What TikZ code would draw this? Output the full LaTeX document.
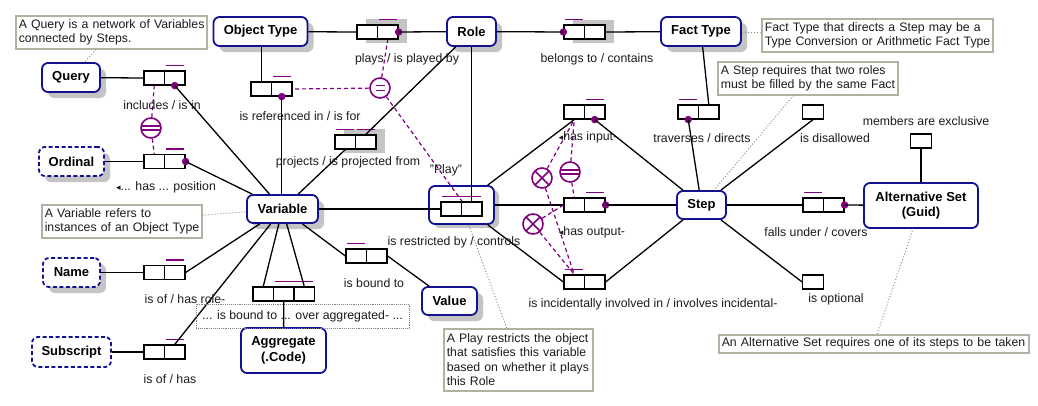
\documentclass[tikz,border=0pt]{standalone}
\usepackage{fontspec}
\setmainfont{Liberation Sans}
\newfontfamily\symfont{DejaVu Sans}
\usetikzlibrary{calc,shadows}

\definecolor{entblue}{RGB}{18,18,145}
\definecolor{cpurple}{RGB}{128,0,128}
\definecolor{shadowgray}{RGB}{196,196,196}
\definecolor{noteborder}{RGB}{180,176,162}
\definecolor{notelinkc}{RGB}{150,146,132}
\definecolor{txt}{RGB}{28,28,28}

% uniqueness bar over one role or spanning several roles
\newcommand\ORMuniq[2]{\draw[ubar] ([xshift=2pt,yshift=5pt]#1.north west) -- ([xshift=-2pt,yshift=5pt]#2.north east);}

\begin{document}
\begin{tikzpicture}[x=1pt,y=-1pt,
  ent/.style={draw=entblue, line width=1.8pt, rounded corners=6pt, fill=white,
    font=\fontsize{13}{15.5}\selectfont\bfseries, align=center, inner sep=0pt, text=black},
  entdash/.style={ent, dash pattern=on 4pt off 2.5pt},
  shadowed/.style={drop shadow={shadow xshift=6pt, shadow yshift=-6pt, fill=shadowgray, opacity=1}},
  rolebox/.style={draw=black, line width=1.2pt, fill=white, minimum width=20.5pt,
    minimum height=14pt, inner sep=0pt},
  ubar/.style={draw=cpurple, line width=1.5pt},
  mdot/.style={circle, fill=cpurple, inner sep=0pt, minimum size=7.5pt},
  conn/.style={draw=black, line width=1.3pt},
  cons/.style={draw=cpurple, line width=1.2pt, dash pattern=on 4pt off 3pt},
  ccircle/.style={circle, draw=cpurple, line width=1.6pt, minimum size=20pt, inner sep=0pt, fill=white},
  csym/.style={draw=cpurple, line width=1.5pt},
  lbl/.style={font=\fontsize{12.3}{14}\selectfont, text=txt, inner sep=0pt},
  note/.style={draw=noteborder, line width=1.5pt, fill=white, anchor=north west, align=left,
    font=\fontsize{12.3}{14.5}\selectfont, text=txt, inner xsep=3pt, inner ysep=2pt},
  notelink/.style={draw=notelinkc, line width=1pt, dotted}]

\fill[white] (0,0) rectangle (1038,405);
\useasboundingbox (0,0) rectangle (1038,405);

% shadows behind fact types shown on several diagrams
\fill[shadowgray] (366,19) rectangle (407,43);
\fill[shadowgray] (573,20) rectangle (614,43);
\fill[shadowgray] (344,129) rectangle (385,153);

% ---------- entity types ----------
\node[ent, shadowed, minimum width=94pt, minimum height=29pt] (ot) at (260.5,31.5) {Object Type};
\node[ent, shadowed, minimum width=49pt, minimum height=29pt] (role) at (471.5,31.5) {Role};
\node[ent, shadowed, minimum width=80pt, minimum height=29pt] (ft) at (701,31.5) {Fact Type};
\node[ent, shadowed, minimum width=58pt, minimum height=29pt] (query) at (71,77.5) {Query};
\node[entdash, shadowed, minimum width=65pt, minimum height=29pt] (ordinal) at (71.5,161.5) {Ordinal};
\node[ent, shadowed, minimum width=71pt, minimum height=28pt] (var) at (282.5,209) {Variable};
\node[entdash, shadowed, minimum width=57pt, minimum height=29pt] (name) at (71.5,272.5) {Name};
\node[entdash, minimum width=79pt, minimum height=30pt] (subscript) at (71.5,352) {Subscript};
\node[ent, minimum width=85pt, minimum height=45pt] (agg) at (283.5,350.5) {Aggregate\\(.Code)};
\node[ent, shadowed, minimum width=55pt, minimum height=28pt] (value) at (449.5,301) {Value};
\node[ent, minimum width=49pt, minimum height=28pt] (step) at (701.5,205) {Step};
\node[ent, minimum width=114pt, minimum height=45pt] (alt) at (921,205.5) {Alternative Set\\(Guid)};
% objectified "Play" fact type
\node[ent, drop shadow={shadow xshift=5pt, shadow yshift=-4pt, fill=shadowgray, opacity=1},
  minimum width=65pt, minimum height=38pt] (play) at (461.5,205) {};

% ---------- roles ----------
\node[rolebox] (qi1) at (154.25,78) {};   \node[rolebox] (qi2) at (174.75,78) {};
\node[rolebox] (op1) at (154.25,161.5) {}; \node[rolebox] (op2) at (174.75,161.5) {};
\node[rolebox] (ref1) at (261.25,89) {};  \node[rolebox] (ref2) at (281.75,89) {};
\node[rolebox] (pl1) at (367.25,32) {};   \node[rolebox] (pl2) at (387.75,32) {};
\node[rolebox] (bt1) at (574.25,32) {};   \node[rolebox] (bt2) at (594.75,32) {};
\node[rolebox] (pr1) at (345.25,142) {};  \node[rolebox] (pr2) at (365.75,142) {};
\node[rolebox] (hi1) at (574.25,112) {};  \node[rolebox] (hi2) at (594.75,112) {};
\node[rolebox] (ho1) at (574.25,205) {};  \node[rolebox] (ho2) at (594.75,205) {};
\node[rolebox] (ii1) at (574.25,282) {};  \node[rolebox] (ii2) at (594.75,282) {};
\node[rolebox] (bd1) at (356.25,256) {};  \node[rolebox] (bd2) at (376.75,256) {};
\node[rolebox] (ag1) at (263.25,294) {};  \node[rolebox] (ag2) at (283.75,294) {}; \node[rolebox] (ag3) at (304.25,294) {};
\node[rolebox] (nm1) at (154.25,272.5) {}; \node[rolebox] (nm2) at (174.75,272.5) {};
\node[rolebox] (sb1) at (154.25,352) {};  \node[rolebox] (sb2) at (174.75,352) {};
\node[rolebox] (pf1) at (451.25,209) {};  \node[rolebox] (pf2) at (471.75,209) {};
\node[rolebox] (tr1) at (688.25,112) {};  \node[rolebox] (tr2) at (708.75,112) {};
\node[rolebox] (fu1) at (813.25,205) {};  \node[rolebox] (fu2) at (833.75,205) {};
\node[rolebox] (dis) at (813,112) {};
\node[rolebox] (opt) at (813,282) {};
\node[rolebox] (mex) at (921,141) {};

% uniqueness constraints
\ORMuniq{qi2}{qi2} \ORMuniq{op2}{op2} \ORMuniq{ref2}{ref2} \ORMuniq{pl2}{pl2}
\ORMuniq{bt1}{bt1} \ORMuniq{pr1}{pr1} \ORMuniq{pr2}{pr2} \ORMuniq{hi2}{hi2}
\ORMuniq{ho2}{ho2} \ORMuniq{ii1}{ii1} \ORMuniq{bd1}{bd1} \ORMuniq{ag2}{ag3}
\ORMuniq{nm2}{nm2} \ORMuniq{sb2}{sb2} \ORMuniq{pf1}{pf2} \ORMuniq{tr1}{tr1}
\ORMuniq{fu1}{fu1}

% mandatory role dots
\node[mdot] (qid) at (qi2.south) {};
\node[mdot] (opd) at (op2.east) {};
\node[mdot] (refd) at (ref2.south) {};
\node[mdot] (pld) at (pl2.east) {};
\node[mdot] (btd) at (bt1.west) {};
\node[mdot] (hid) at (hi2.south) {};
\node[mdot] (hod) at (ho2.east) {};
\node[mdot] (trd) at (tr1.south) {};
\node[mdot] (fud) at (fu2.east) {};

% ---------- role player connectors ----------
\draw[conn] (query) -- (qi1.west);
\draw[conn] (qid.center) -- (var);
\draw[conn] (ordinal) -- (op1.west);
\draw[conn] (opd.center) -- (var);
\draw[conn] (ref1.north |- ot.south) -- (ref1.north);
\draw[conn] (refd.center) -- (refd |- var.north);
\draw[conn] (ot) -- (pl1.west);
\draw[conn] (pld.center) -- (role);
\draw[conn] (role) -- (btd.center);
\draw[conn] (bt2.east) -- (ft);
\draw[conn] (role) -- (pr2.north);
\draw[conn] (pr1.south) -- (var);
\draw[conn] (pf2.north |- role.south) -- (pf2.north);
\draw[conn] (var) -- (pf1.west);
\draw[conn] (play) -- (hi1.south);
\draw[conn] (play.east) -- (ho1.west);
\draw[conn] (play) -- (ii1.west);
\draw[conn] (hid.center) -- (step);
\draw[conn] (hod.center) -- (step);
\draw[conn] (ii2.east) -- (step);
\draw[conn] (ft) -- (tr2.north);
\draw[conn] (trd.center) -- (step);
\draw[conn] (step) -- (dis.south);
\draw[conn] (step) -- (fu1.west);
\draw[conn] (fud.center) -- (alt);
\draw[conn] (step) -- (opt.west);
\draw[conn] (mex) -- (alt);
\draw[conn] (var) -- (bd1.west);
\draw[conn] (bd2.east) -- (value);
\draw[conn] (var) -- (ag1.north);
\draw[conn] (var) -- (ag3.north);
\draw[conn] (name) -- (nm1.west);
\draw[conn] (nm2.east) -- (var);
\draw[conn] (subscript) -- (sb1.west);
\draw[conn] (sb2.north) -- (var);

% ---------- set constraints ----------
\node[ccircle] (eqa) at (151,128) {};
\draw[csym] ($(eqa.center)+(-9.4,-2)$) -- ($(eqa.center)+(9.4,-2)$);
\draw[csym] ($(eqa.center)+(-9.4,2)$) -- ($(eqa.center)+(9.4,2)$);
\draw[cons] (eqa) -- (qi1.south);
\draw[cons] (eqa) -- (op1.north);

\node[ccircle] (cmp) at (380,88) {};
\draw[csym] ($(cmp.center)+(-4.5,-2.5)$) -- ($(cmp.center)+(4.5,-2.5)$);
\draw[csym] ($(cmp.center)+(-4.5,2.5)$) -- ($(cmp.center)+(4.5,2.5)$);
\draw[cons] (cmp) -- (ref2.east);
\draw[cons] (cmp) -- (pl2.south);
\draw[cons] (cmp) -- (pf1.north east);

\node[ccircle] (eqb) at (570,172) {};
\draw[csym] ($(eqb.center)+(-9.4,-2)$) -- ($(eqb.center)+(9.4,-2)$);
\draw[csym] ($(eqb.center)+(-9.4,2)$) -- ($(eqb.center)+(9.4,2)$);
\draw[cons] (eqb) -- (hi1.south);
\draw[cons] (eqb) -- (ho1.north);

\node[ccircle] (xa) at (542,178) {};
\draw[csym] ($(xa.center)+(-7,-7)$) -- ($(xa.center)+(7,7)$);
\draw[csym] ($(xa.center)+(-7,7)$) -- ($(xa.center)+(7,-7)$);
\draw[cons] (xa) -- (hi1.south);
\draw[cons] (xa) -- (ii1.north);

\node[ccircle] (xb) at (533,224) {};
\draw[csym] ($(xb.center)+(-7,-7)$) -- ($(xb.center)+(7,7)$);
\draw[csym] ($(xb.center)+(-7,7)$) -- ($(xb.center)+(7,-7)$);
\draw[cons] (xb) -- (ho1.west);
\draw[cons] (xb) -- (ii1.north);

% ---------- reading labels ----------
\node[lbl] (l1) at (162,105) {includes / is in};
\node[lbl] (l2) at (166,187) {{\symfont\fontsize{9}{9}\selectfont ◂}... has ... position};
\node[lbl] (l3) at (300,116) {is referenced in / is for};
\node[lbl] (l4) at (407,59) {plays / is played by};
\node[lbl] (l5) at (597,59) {belongs to / contains};
\node[lbl] (l6) at (348,162) {projects / is projected from};
\node[lbl] (l7) at (446,170) {"Play"};
\node[lbl] (l8) at (588,137) {{\symfont\fontsize{9}{9}\selectfont ◂}has input-};
\node[lbl] (l9) at (702,138) {traverses / directs};
\node[lbl] (l10) at (835,138) {is disallowed};
\node[lbl] (l11) at (926,121) {members are exclusive};
\node[lbl] (l12) at (454,242) {is restricted by / controls};
\node[lbl] (l13) at (592,232) {{\symfont\fontsize{9}{9}\selectfont ◂}has output-};
\node[lbl] (l14) at (816,232) {falls under / covers};
\node[lbl] (l15) at (374,283) {is bound to};
\node[lbl] (l16) at (185,299) {is of / has role-};
\node[lbl] (l17) at (653,304) {is incidentally involved in / involves incidental-};
\node[lbl] (l18) at (836,299) {is optional};
\node[lbl] (l19) at (170,379) {is of / has};
\node[lbl, draw=gray, densely dotted, line width=0.9pt, minimum width=213pt, minimum height=24pt]
  (l20) at (302.5,316) {... is bound to ... over aggregated- ...};
\draw[conn] (ag2.south) -- (agg);

% ---------- notes ----------
\node[note, text width=185pt, minimum height=33pt] (n1) at (15,15)
  {\mbox{A Query is a network of Variables}\\\mbox{connected by Steps.}};
\node[note, text width=225pt, minimum height=33pt] (n2) at (761,18)
  {\mbox{Fact Type that directs a Step may be a}\\\mbox{Type Conversion or Arithmetic Fact Type}};
\node[note, text width=174pt, minimum height=33pt] (n3) at (717,61)
  {\mbox{A Step requires that two roles}\\\mbox{must be filled by the same Fact}};
\node[note, text width=154pt, minimum height=33pt] (n4) at (41,204)
  {\mbox{A Variable refers to}\\\mbox{instances of an Object Type}};
\node[note, text width=143pt, minimum height=62pt] (n5) at (443,328)
  {\mbox{A Play restricts the object}\\\mbox{that satisfies this variable}\\\mbox{based on whether it plays}\\\mbox{this Role}};
\node[note, text width=304pt, minimum height=18pt] (n6) at (718,334)
  {\mbox{An Alternative Set requires one of its steps to be taken}};

\draw[notelink] (n1) -- (query);
\draw[notelink] (ft) -- (n2);
\draw[notelink] (n3) -- (step);
\draw[notelink] (n4) -- (var);
\draw[notelink] (n5) -- (play);
\draw[notelink] (n6) -- (alt);

\end{tikzpicture}
\end{document}
